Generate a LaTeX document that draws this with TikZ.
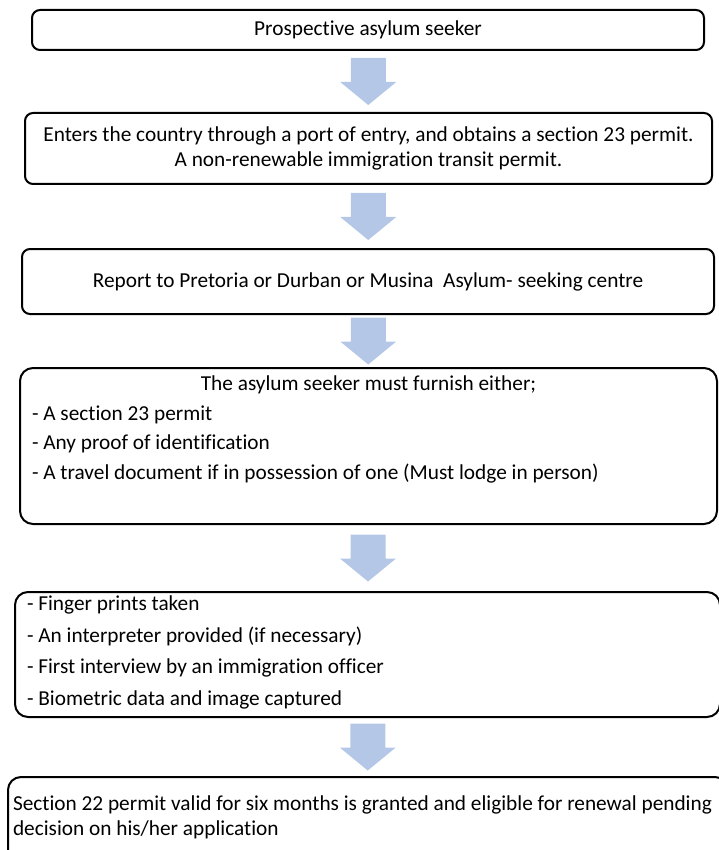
\documentclass[tikz,border=0pt]{standalone}
\usepackage{fontspec}
\setmainfont{Carlito}[Ligatures=CommonOff]
\usetikzlibrary{calc}
\definecolor{arrowblue}{RGB}{180,199,231}
\tikzset{
	stagebox/.style={draw=black, line width=2pt, rounded corners=8pt, inner sep=0pt, font=\fontsize{21.3}{24.5}\selectfont},
	widebox/.style={stagebox, rounded corners=13pt},
}
\def\flowarrow(#1)(#2){\fill[arrowblue] ($(#1.south)!0.5!(#2.north)$) ++(-17.5,-23.5) -- ++(35,0) -- ++(0,24) -- ++(10.5,0) -- ++(-28,23) -- ++(-28,-23) -- ++(10.5,0) -- cycle;}

\begin{document}
\begin{tikzpicture}[x=1pt, y=-1pt]
			%%%%% START %%%%%
			\useasboundingbox (0,0) rectangle (719,850);
			\clip (0,0) rectangle (719,850);
			
			\node[stagebox, minimum width=672pt, minimum height=40pt] (seeker) at (368,30) {Prospective asylum seeker};
			\node[stagebox, minimum width=687pt, minimum height=71pt, align=center] (entry) at (368.5,148.5) {Enters the country through a port of entry, and obtains a section 23 permit.\\A non-renewable immigration transit permit.};
			\node[stagebox, minimum width=692pt, minimum height=65pt] (report) at (368,281.5) {Report to Pretoria or Durban or Musina\ \ Asylum- seeking centre};
			
			\node[widebox, inner xsep=12pt, inner ysep=8pt] (furnish) at (368.5,446) {\parbox[c][140pt][t]{673pt}{%
				{\centering The asylum seeker must furnish either;\par}\vspace{5pt}%
				- A section 23 permit\\[5pt]
				- Any proof of identification\\[5pt]
				- A travel document if in possession of one (Must lodge in person)}};
			
			\node[widebox, inner xsep=12pt, inner ysep=4pt] (checks) at (367.5,654.5) {\parbox[c][117pt][t]{681pt}{%
				- Finger prints taken\\[7pt]
				- An interpreter provided (if necessary)\\[7pt]
				- First interview by an immigration officer\\[7pt]
				- Biometric data and image captured}};
			
			\node[widebox, inner xsep=5pt, inner ysep=19pt] (grant) at (368,822) {\parbox[c][52pt][t]{710pt}{%
				Section 22 permit valid for six months is granted and eligible for renewal pending\\[0pt]
				decision on his/her application}};
			
			\flowarrow(seeker)(entry)
			\flowarrow(entry)(report)
			\flowarrow(report)(furnish)
			\flowarrow(furnish)(checks)
			\flowarrow(checks)(grant)
			%%%%% END %%%%%
\end{tikzpicture}
\end{document}
